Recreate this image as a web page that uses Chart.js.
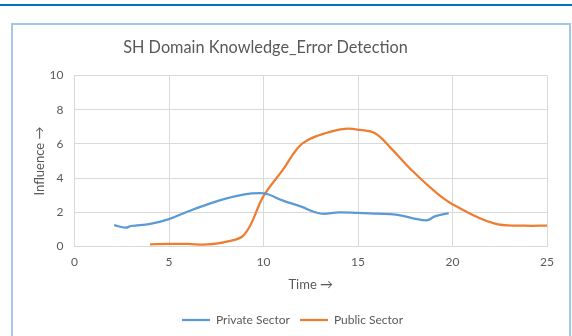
<!DOCTYPE html>
<html>
<head>
<meta charset="utf-8">
<script src="https://cdn.jsdelivr.net/npm/chart.js@4.4.1/dist/chart.umd.min.js"></script>
<style>
  html, body { margin: 0; padding: 0; background: #ffffff; }
  body { width: 572px; height: 336px; position: relative; overflow: hidden; }
  #topline { position: absolute; left: 0; top: 4px; width: 572px; height: 2px; background: #0070c0; }
  #frame { position: absolute; left: 11px; top: 23px; width: 556px; height: 340px; border: 2px solid #a4c6e8; box-sizing: content-box; }
  #wrap { position: absolute; left: 0; top: 0; width: 572px; height: 336px; }
</style>
</head>
<body>
<div id="topline"></div>
<div id="frame"></div>
<div id="wrap"><canvas id="c" width="572" height="336"></canvas></div>
<script>
// ---- data ----
const chartTitle = "SH Domain Knowledge_Error Detection";
const xTitle = "Time \u2192";
const yTitle = "Influence \u2192";
const seriesNames = ["Private Sector", "Public Sector"];

const privateX = [2.1, 2.7, 3, 4, 5, 6, 7, 8, 9, 9.8, 10.2, 11, 12, 13, 14, 15, 16, 17, 18.6, 19.1, 19.8];
const privateY = [1.25, 1.1, 1.2, 1.32, 1.6, 2.05, 2.45, 2.8, 3.05, 3.12, 3.07, 2.7, 2.33, 1.93, 2.0, 1.97, 1.92, 1.87, 1.53, 1.78, 1.95];

const publicX = [4, 5, 6, 7, 8, 9, 10, 11, 11.8, 12.3, 13.2, 14.3, 15.1, 15.9, 16.7, 17.9, 19.2, 20.2, 22.2, 23.8, 25];
const publicY = [0.12, 0.15, 0.15, 0.12, 0.27, 0.72, 2.95, 4.45, 5.75, 6.2, 6.6, 6.88, 6.82, 6.62, 5.8, 4.4, 3.1, 2.35, 1.35, 1.22, 1.22];

const xTicks = { min: 0, max: 25, step: 5 };
const yTicks = { min: 0, max: 10, step: 2 };

const toPoints = (xs, ys) => xs.map((x, i) => ({ x: x, y: ys[i] }));

const FONT = "Lato, 'Open Sans', sans-serif";
const TXT = "#595959";
const GRID = "#d9d9d9";

// shift title / legend horizontally to match the reference's centring
const shiftBlocks = {
  id: 'shiftBlocks',
  afterLayout(chart) {
    const t = chart.titleBlock;
    if (t) { t.left -= 14; t.right -= 14; }
    const l = chart.legend;
    if (l) { l.left += 13; l.right += 13; }
  }
};

new Chart(document.getElementById('c'), {
  type: 'line',
  data: {
    datasets: [
      { label: seriesNames[0], data: toPoints(privateX, privateY), borderColor: '#5b9bd5', backgroundColor: '#5b9bd5', borderWidth: 2.25, pointRadius: 0, tension: 0.4, fill: false },
      { label: seriesNames[1], data: toPoints(publicX, publicY), borderColor: '#ed7d31', backgroundColor: '#ed7d31', borderWidth: 2.25, pointRadius: 0, tension: 0.4, fill: false }
    ]
  },
  plugins: [shiftBlocks],
  options: {
    responsive: false,
    animation: false,
    layout: { padding: { top: 30, left: 12, right: 25, bottom: 0 } },
    plugins: {
      title: { display: true, text: chartTitle, color: TXT, font: { family: FONT, size: 16.3, weight: 'normal' }, padding: { top: 8, bottom: 18 } },
      legend: {
        position: 'bottom',
        labels: { color: TXT, font: { family: FONT, size: 12 }, usePointStyle: true, pointStyle: 'line', pointStyleWidth: 28, padding: 10 }
      },
      tooltip: { enabled: false }
    },
    scales: {
      x: {
        type: 'linear', min: xTicks.min, max: xTicks.max,
        ticks: { stepSize: xTicks.step, color: TXT, font: { family: FONT, size: 12 }, padding: 8 },
        grid: { color: GRID, drawTicks: false },
        border: { color: GRID },
        title: { display: true, text: xTitle, color: TXT, font: { family: FONT, size: 13 }, padding: { top: 0, bottom: 11.5 } }
      },
      y: {
        min: yTicks.min, max: yTicks.max,
        ticks: { stepSize: yTicks.step, color: TXT, font: { family: FONT, size: 12 }, padding: 11 },
        grid: { color: GRID, drawTicks: false },
        border: { color: GRID },
        title: { display: true, text: yTitle, color: TXT, font: { family: FONT, size: 13 }, padding: { top: 20, bottom: 4 } },
        afterFit: (s) => { s.width = 62.5; }
      }
    }
  }
});
</script>
</body>
</html>
